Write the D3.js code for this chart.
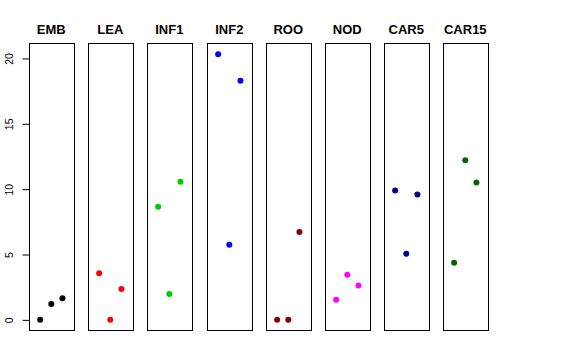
<!DOCTYPE html>
<html><head><meta charset="utf-8">
<script src="https://cdn.jsdelivr.net/npm/d3@7"></script>
<style>body{margin:0;background:#fff}svg{display:block}</style>
</head><body>
<script>
const categories = ["EMB","LEA","INF1","INF2","ROO","NOD","CAR5","CAR15"];
const colors = ["#000000","#FF0000","#00CD00","#0000FF","#8B0000","#FF00FF","#00008B","#006400"];
const values = [
  [0, 1.22, 1.65],
  [3.56, 0, 2.37],
  [8.65, 1.98, 10.56],
  [20.33, 5.75, 18.3],
  [0, 0, 6.72],
  [1.53, 3.46, 2.62],
  [9.9, 5.06, 9.59],
  [4.37, 12.21, 10.51]
];
const yTicks = [0, 5, 10, 15, 20];

const W = 576, H = 360;
const svg = d3.select("body").append("svg").attr("width", W).attr("height", H);

const allVals = values.flat();
const vmin = d3.min(allVals), vmax = d3.max(allVals);
const ext = (vmax - vmin) * 0.04;
const y = d3.scaleLinear().domain([vmin - ext, vmax + ext]).range([330.5, 43.5]);

const band = d3.scaleBand().domain(categories).range([29, 488]).paddingInner(0.247).paddingOuter(0);

// y axis
const axis = d3.axisLeft(y).tickValues(yTicks).tickSize(7).tickFormat(d3.format("d"));
const gAxis = svg.append("g").attr("transform", "translate(29.5,0)").call(axis);
gAxis.select(".domain").attr("d", `M-0,${y(0)}V${y(20)}`).attr("stroke", "#000");
gAxis.selectAll(".tick line").attr("stroke", "#000");
gAxis.selectAll(".tick text")
  .attr("font-family", "Liberation Sans, Arial, sans-serif")
  .attr("font-size", 10.5)
  .attr("fill", "#000")
  .attr("x", null).attr("dy", null)
  .attr("text-anchor", "middle")
  .attr("transform", "translate(-17,0) rotate(-90)");

categories.forEach((cat, i) => {
  const left = Math.round(band(cat));
  const bw = band.bandwidth();
  const x = d3.scaleLinear().domain([0, 4]).range([left, left + bw]);
  const g = svg.append("g");
  g.append("rect")
    .attr("x", left + 0.5).attr("y", 43.5)
    .attr("width", Math.round(bw)).attr("height", 287)
    .attr("fill", "none").attr("stroke", "#000").attr("stroke-width", 1);
  g.append("text")
    .attr("x", left + bw / 2).attr("y", 34)
    .attr("text-anchor", "middle")
    .attr("font-family", "Liberation Sans, Arial, sans-serif")
    .attr("font-weight", "bold").attr("font-size", 13)
    .text(cat);
  g.selectAll("circle").data(values[i]).enter().append("circle")
    .attr("cx", (d, j) => x(j + 1))
    .attr("cy", d => y(d))
    .attr("r", 3)
    .attr("fill", colors[i]);
});
</script>
</body></html>
